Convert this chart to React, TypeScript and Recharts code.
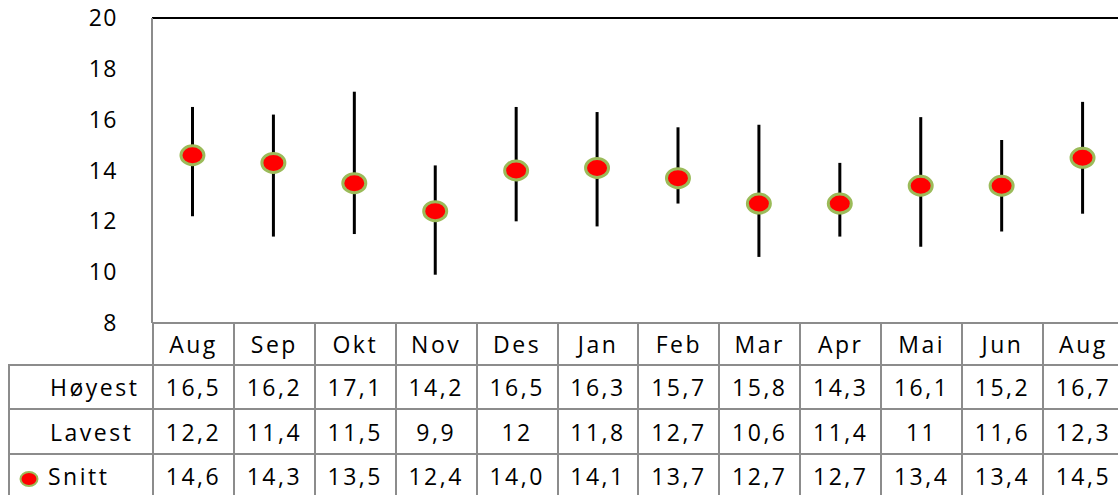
import { Bar, ComposedChart, Line, ReferenceLine, XAxis, YAxis } from "recharts";

const months = ["Aug", "Sep", "Okt", "Nov", "Des", "Jan", "Feb", "Mar", "Apr", "Mai", "Jun", "Aug"];
const hoyest = [16.5, 16.2, 17.1, 14.2, 16.5, 16.3, 15.7, 15.8, 14.3, 16.1, 15.2, 16.7];
const lavest = [12.2, 11.4, 11.5, 9.9, 12, 11.8, 12.7, 10.6, 11.4, 11, 11.6, 12.3];
const snitt = [14.6, 14.3, 13.5, 12.4, 14.0, 14.1, 13.7, 12.7, 12.7, 13.4, 13.4, 14.5];
const yTicks = [8, 10, 12, 14, 16, 18, 20];

// page coordinates (wrapper is fixed at 0,0); the plot runs a little past the right edge
const W = 1118;
const H = 495;
const TABLE_LEFT = 8;
const PLOT_LEFT = 152;
const PLOT_TOP = 18;
const PLOT_BOTTOM = 323;
const PLOT_RIGHT = 1123;
const CHART_W = PLOT_RIGHT + 1;
const COL_W = (PLOT_RIGHT - PLOT_LEFT) / months.length;
const GRID = "2px solid #8c8c8c";
const FONT = "'Open Sans', sans-serif";

const data = months.map((m, i) => ({
  key: `${m}-${i}`,
  month: m,
  range: [lavest[i], hoyest[i]],
  snitt: snitt[i],
}));

const fmt = (v: number, oneDecimal: boolean) =>
  oneDecimal ? v.toFixed(1).replace(".", ",") : String(v).replace(".", ",");

function Marker(props: any) {
  const { cx, cy } = props;
  if (cx == null || cy == null) return null;
  return <ellipse cx={cx} cy={cy} rx={11.5} ry={9.5} fill="#ff0000" stroke="#9bbb59" strokeWidth={3} />;
}

const cell: React.CSSProperties = {
  border: GRID,
  padding: 0,
  textAlign: "center",
  fontSize: 23,
  letterSpacing: 2.5,
  color: "#000",
  whiteSpace: "nowrap",
  overflow: "hidden",
};

function Row({ label, values, height, oneDecimal, marker }: { label: string; values: number[]; height: number; oneDecimal: boolean; marker?: boolean }) {
  return (
    <tr style={{ height }}>
      <td style={{ ...cell, textAlign: "left", paddingLeft: marker ? 8 : 40 }}>
        {marker && (
          <svg width={22} height={18} style={{ verticalAlign: "middle", marginRight: 8 }}>
            <ellipse cx={11} cy={9} rx={8.5} ry={7} fill="#ff0000" stroke="#9bbb59" strokeWidth={2} />
          </svg>
        )}
        {label}
      </td>
      {values.map((v, i) => (
        <td key={i} style={cell}>
          {fmt(v, oneDecimal)}
        </td>
      ))}
    </tr>
  );
}

export default function App() {
  return (
    <div style={{ position: "fixed", left: 0, top: 0, width: W, height: H, overflow: "hidden", fontFamily: FONT, background: "#fff" }}>
      <div style={{ position: "absolute", left: 0, top: 0 }}>
        <ComposedChart
          width={CHART_W}
          height={PLOT_BOTTOM + 15}
          data={data}
          margin={{ top: PLOT_TOP, right: CHART_W - PLOT_RIGHT, bottom: 15, left: 0 }}
        >
          <XAxis dataKey="key" hide />
          <YAxis
            domain={[8, 20]}
            ticks={yTicks}
            width={PLOT_LEFT}
            tickLine={false}
            tickMargin={28}
            axisLine={{ stroke: "#8c8c8c", strokeWidth: 2 }}
            tick={{ fontSize: 23, fill: "#000", fontFamily: FONT, letterSpacing: 1.5 }}
            interval={0}
          />
          <ReferenceLine y={20} stroke="#000" strokeWidth={2} />
          <Bar dataKey="range" barSize={3} fill="#000" isAnimationActive={false} />
          <Line
            dataKey="snitt"
            stroke="none"
            dot={<Marker />}
            activeDot={false}
            isAnimationActive={false}
          />
        </ComposedChart>
      </div>
      <table
        style={{
          position: "absolute",
          left: TABLE_LEFT,
          top: PLOT_BOTTOM - 1,
          borderCollapse: "collapse",
          tableLayout: "fixed",
          width: PLOT_RIGHT - TABLE_LEFT,
          fontFamily: FONT,
        }}
      >
        <colgroup>
          <col style={{ width: PLOT_LEFT - TABLE_LEFT }} />
          {months.map((_, i) => (
            <col key={i} style={{ width: COL_W }} />
          ))}
        </colgroup>
        <tbody>
          <tr style={{ height: 42 }}>
            <td style={{ ...cell, borderTop: "none", borderLeft: "none" }} />
            {months.map((m, i) => (
              <td key={i} style={cell}>
                {m}
              </td>
            ))}
          </tr>
          <Row label="Høyest" values={hoyest} height={44} oneDecimal={false} />
          <Row label="Lavest" values={lavest} height={45} oneDecimal={false} />
          <Row label="Snitt" values={snitt} height={44} oneDecimal={true} marker />
        </tbody>
      </table>
    </div>
  );
}
